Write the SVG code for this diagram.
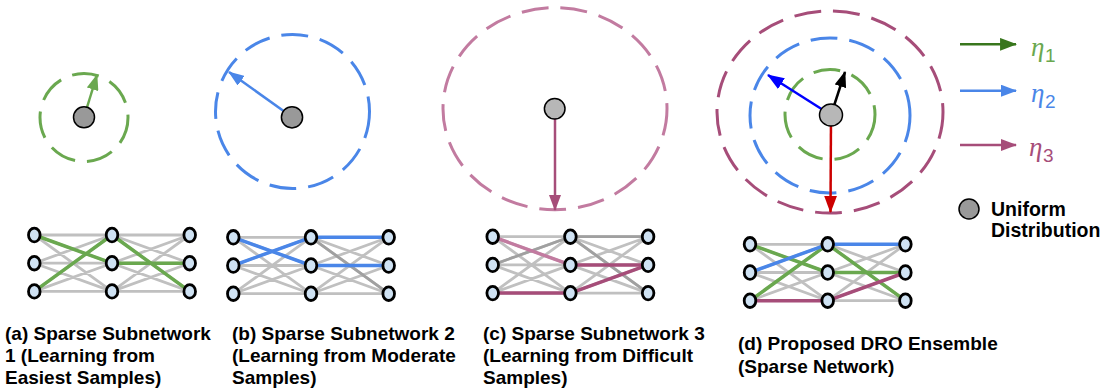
<svg xmlns="http://www.w3.org/2000/svg" xmlns:xlink="http://www.w3.org/1999/xlink" width="1105" height="389" viewBox="0 0 1105 389">
  <style>
    .ring { fill: none; stroke-width: 3; stroke-dasharray: 27 12; }
    .dot { stroke: #000; stroke-width: 1.5; }
    .edge { stroke: #c0c0c0; stroke-width: 2.8; }
    .edge-dk { stroke: #a0a0a0; stroke-width: 2.8; }
    .hl { stroke-width: 3.5; stroke-linecap: round; }
    .unit { fill: #cfe2f3; stroke: #000; stroke-width: 2.8; }
    .cap { font-family: "Liberation Sans", Arial, sans-serif; font-weight: bold; font-size: 19px; fill: #000; }
    .eta { font-family: "Liberation Serif", "DejaVu Serif", serif; font-style: italic; font-size: 27px; }
    .sub { font-family: "Liberation Sans", Arial, sans-serif; font-size: 19px; }
    .vec { fill: none; stroke-width: 2.5; }
  </style>
  <defs>
    <marker id="ah-green" markerUnits="userSpaceOnUse" markerWidth="16" markerHeight="12" viewBox="0 0 16 12" refX="15" refY="6" orient="auto"><path d="M0,0 L16,6 L0,12 z" fill="#6aa84f"/></marker>
    <marker id="ah-dgreen" markerUnits="userSpaceOnUse" markerWidth="17" markerHeight="13" viewBox="0 0 16 12" refX="15" refY="6" orient="auto"><path d="M0,0 L16,6 L0,12 z" fill="#38761d"/></marker>
    <marker id="ah-blue" markerUnits="userSpaceOnUse" markerWidth="16" markerHeight="12" viewBox="0 0 16 12" refX="15" refY="6" orient="auto"><path d="M0,0 L16,6 L0,12 z" fill="#4a86e8"/></marker>
    <marker id="ah-pblue" markerUnits="userSpaceOnUse" markerWidth="17" markerHeight="13" viewBox="0 0 16 12" refX="15" refY="6" orient="auto"><path d="M0,0 L16,6 L0,12 z" fill="#0000ff"/></marker>
    <marker id="ah-plum" markerUnits="userSpaceOnUse" markerWidth="16" markerHeight="12" viewBox="0 0 16 12" refX="15" refY="6" orient="auto"><path d="M0,0 L16,6 L0,12 z" fill="#a64d79"/></marker>
    <marker id="ah-black" markerUnits="userSpaceOnUse" markerWidth="16" markerHeight="12" viewBox="0 0 16 12" refX="15" refY="6" orient="auto"><path d="M0,0 L16,6 L0,12 z" fill="#000"/></marker>
    <marker id="ah-red" markerUnits="userSpaceOnUse" markerWidth="17" markerHeight="13" viewBox="0 0 16 12" refX="15" refY="6" orient="auto"><path d="M0,0 L16,6 L0,12 z" fill="#cc0000"/></marker>

    <!-- dense 3-3-3 layer wiring, top-left unit at origin -->
    <g id="mesh-edges">
      <path class="edge" d="M0,0 L77.7,0 M0,0 L77.7,28.2 M0,0 L77.7,56.4
                            M0,28.2 L77.7,0 M0,28.2 L77.7,28.2 M0,28.2 L77.7,56.4
                            M0,56.4 L77.7,0 M0,56.4 L77.7,28.2 M0,56.4 L77.7,56.4
                            M77.7,0 L155.4,0 M77.7,0 L155.4,28.2 M77.7,0 L155.4,56.4
                            M77.7,28.2 L155.4,0 M77.7,28.2 L155.4,28.2 M77.7,28.2 L155.4,56.4
                            M77.7,56.4 L155.4,0 M77.7,56.4 L155.4,28.2 M77.7,56.4 L155.4,56.4"/>
    </g>
    <g id="mesh-units">
      <ellipse class="unit" cx="0" cy="0" rx="5.8" ry="6.8"/>
      <ellipse class="unit" cx="0" cy="28.2" rx="5.8" ry="6.8"/>
      <ellipse class="unit" cx="0" cy="56.4" rx="5.8" ry="6.8"/>
      <ellipse class="unit" cx="77.7" cy="0" rx="5.8" ry="6.8"/>
      <ellipse class="unit" cx="77.7" cy="28.2" rx="5.8" ry="6.8"/>
      <ellipse class="unit" cx="77.7" cy="56.4" rx="5.8" ry="6.8"/>
      <ellipse class="unit" cx="155.4" cy="0" rx="5.8" ry="6.8"/>
      <ellipse class="unit" cx="155.4" cy="28.2" rx="5.8" ry="6.8"/>
      <ellipse class="unit" cx="155.4" cy="56.4" rx="5.8" ry="6.8"/>
    </g>
  </defs>

  <rect width="1105" height="389" fill="#fff"/>

  <!-- uncertainty balls -->
  <g id="ball-a"><circle class="ring" cx="84" cy="117.5" r="44" stroke="#6aa84f"/></g>
  <g id="ball-b"><circle class="ring" cx="292.5" cy="111.5" r="77" stroke="#4a86e8"/></g>
  <g id="ball-c"><ellipse class="ring" cx="555" cy="108.7" rx="112" ry="101" stroke="#c27ba0"/></g>
  <g id="ball-d">
    <circle class="ring" cx="830" cy="114.5" r="45" stroke="#6aa84f"/>
    <ellipse class="ring" cx="830" cy="115.5" rx="80" ry="77.5" stroke="#4a86e8"/>
    <ellipse class="ring" cx="830" cy="112" rx="113" ry="101" stroke="#a64d79"/>
  </g>

  <!-- radius vectors and legend arrows -->
  <g id="connectors">
    <line class="vec" x1="84" y1="117" x2="97" y2="75" stroke="#6aa84f" marker-end="url(#ah-green)"/>
    <line class="vec" x1="292" y1="117" x2="229" y2="72" stroke="#4a86e8" marker-end="url(#ah-blue)"/>
    <line class="vec" x1="555" y1="109" x2="555" y2="210" stroke="#a64d79" marker-end="url(#ah-plum)"/>
    <line class="vec" x1="831" y1="115" x2="768" y2="75" stroke="#0000ff" stroke-width="3" marker-end="url(#ah-pblue)"/>
    <line class="vec" x1="831" y1="115" x2="845" y2="72" stroke="#000" stroke-width="3" marker-end="url(#ah-black)"/>
    <line class="vec" x1="831" y1="115" x2="830.5" y2="212" stroke="#cc0000" marker-end="url(#ah-red)"/>
    <line class="vec" x1="960" y1="44.3" x2="1016" y2="44.3" stroke="#38761d" stroke-width="3" marker-end="url(#ah-dgreen)"/>
    <line class="vec" x1="960" y1="90.7" x2="1016" y2="90.7" stroke="#4a86e8" stroke-width="3" marker-end="url(#ah-blue)"/>
    <line class="vec" x1="960" y1="145" x2="1016" y2="145" stroke="#a64d79" stroke-width="3" marker-end="url(#ah-plum)"/>
  </g>

  <!-- uniform-distribution centres -->
  <g id="centre-a"><circle class="dot" cx="84" cy="117.3" r="10.5" fill="#999999"/></g>
  <g id="centre-b"><circle class="dot" cx="292" cy="117.3" r="10.6" fill="#999999"/></g>
  <g id="centre-c"><circle class="dot" cx="554.7" cy="108.7" r="10.3" fill="#b7b7b7"/></g>
  <g id="centre-d"><ellipse class="dot" cx="831" cy="115" rx="11.5" ry="11" fill="#b7b7b7"/></g>

  <!-- legend -->
  <g id="legend-eta1">
    <text x="1031" y="56" class="eta" fill="#6aa84f">η</text>
    <text x="1045" y="62" class="sub" fill="#6aa84f">1</text>
  </g>
  <g id="legend-eta2">
    <text x="1031" y="102" class="eta" fill="#4a86e8">η</text>
    <text x="1045" y="108" class="sub" fill="#4a86e8">2</text>
  </g>
  <g id="legend-eta3">
    <text x="1029" y="156" class="eta" fill="#a64d79">η</text>
    <text x="1043" y="162" class="sub" fill="#a64d79">3</text>
  </g>
  <g id="legend-uniform">
    <circle class="dot" cx="969" cy="209" r="10" fill="#999999"/>
    <text class="cap" style="font-size:19.5px" x="991" y="216">Uniform</text>
    <text class="cap" style="font-size:19.5px" x="991" y="237">Distribution</text>
  </g>

  <!-- sparse subnetworks -->
  <g id="net-a" transform="translate(34.3,235)">
    <use href="#mesh-edges"/>
    <g class="hl" stroke="#6aa84f">
      <line x1="0" y1="0" x2="77.7" y2="28.2"/>
      <line x1="0" y1="56.4" x2="77.7" y2="0"/>
      <line x1="77.7" y1="0" x2="155.4" y2="56.4"/>
      <line x1="77.7" y1="28.2" x2="155.4" y2="28.2"/>
    </g>
    <use href="#mesh-units"/>
  </g>
  <g id="net-b" transform="translate(233.3,237.3)">
    <use href="#mesh-edges"/>
    <line class="edge-dk" x1="77.7" y1="0" x2="155.4" y2="56.4"/>
    <g class="hl" stroke="#4a86e8">
      <line x1="0" y1="0" x2="77.7" y2="28.2"/>
      <line x1="0" y1="28.2" x2="77.7" y2="0"/>
      <line x1="77.7" y1="0" x2="155.4" y2="0"/>
      <line x1="77.7" y1="28.2" x2="155.4" y2="28.2"/>
    </g>
    <use href="#mesh-units"/>
  </g>
  <g id="net-c" transform="translate(492.7,236.7)">
    <use href="#mesh-edges"/>
    <line class="edge-dk" x1="0" y1="28.2" x2="77.7" y2="0"/>
    <line class="edge-dk" x1="77.7" y1="0" x2="155.4" y2="0"/>
    <line class="edge-dk" x1="77.7" y1="0" x2="155.4" y2="56.4"/>
    <line class="hl" stroke="#c27ba0" x1="0" y1="0" x2="77.7" y2="28.2"/>
    <g class="hl" stroke="#a64d79">
      <line x1="0" y1="56.4" x2="77.7" y2="56.4"/>
      <line x1="77.7" y1="28.2" x2="155.4" y2="28.2"/>
      <line x1="77.7" y1="56.4" x2="155.4" y2="28.2"/>
    </g>
    <use href="#mesh-units"/>
  </g>
  <g id="net-d" transform="translate(750,244.3)">
    <use href="#mesh-edges"/>
    <g class="hl" stroke="#6aa84f">
      <line x1="0" y1="0" x2="77.7" y2="28.2"/>
      <line x1="0" y1="56.4" x2="77.7" y2="0"/>
      <line x1="77.7" y1="0" x2="155.4" y2="56.4"/>
      <line x1="77.7" y1="28.2" x2="155.4" y2="28.2"/>
    </g>
    <g class="hl" stroke="#4a86e8">
      <line x1="0" y1="28.2" x2="77.7" y2="0"/>
      <line x1="77.7" y1="0" x2="155.4" y2="0"/>
    </g>
    <g class="hl" stroke="#a64d79">
      <line x1="0" y1="56.4" x2="77.7" y2="56.4"/>
      <line x1="77.7" y1="56.4" x2="155.4" y2="28.2"/>
    </g>
    <use href="#mesh-units"/>
  </g>

  <!-- captions -->
  <g id="caption-a">
    <text class="cap" x="5" y="340">(a) Sparse Subnetwork</text>
    <text class="cap" x="5" y="362">1 (Learning from</text>
    <text class="cap" x="5" y="384">Easiest Samples)</text>
  </g>
  <g id="caption-b">
    <text class="cap" x="232" y="340">(b) Sparse Subnetwork 2</text>
    <text class="cap" x="232" y="362">(Learning from Moderate</text>
    <text class="cap" x="232" y="384">Samples)</text>
  </g>
  <g id="caption-c">
    <text class="cap" x="483" y="340">(c) Sparse Subnetwork 3</text>
    <text class="cap" x="483" y="362">(Learning from Difficult</text>
    <text class="cap" x="483" y="384">Samples)</text>
  </g>
  <g id="caption-d">
    <text class="cap" x="738" y="350">(d) Proposed DRO Ensemble</text>
    <text class="cap" x="738" y="373">(Sparse Network)</text>
  </g>
</svg>
